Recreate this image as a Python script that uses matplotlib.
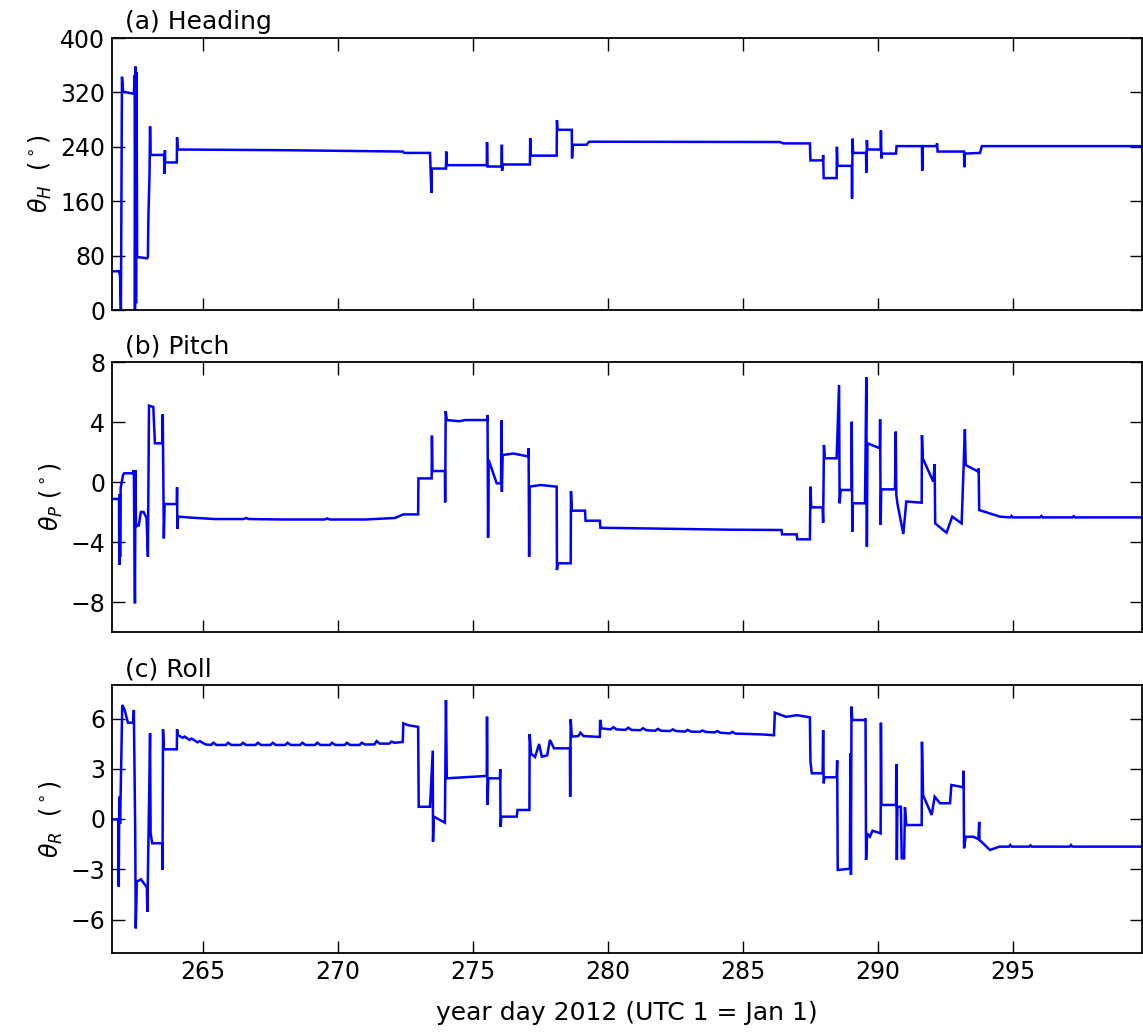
import matplotlib
matplotlib.use("Agg")
import matplotlib.pyplot as plt

# Ship attitude time series: (year day, degrees) breakpoints
heading_pts = [
    (261.63, 57), (261.89, 57), (261.93, 50), (261.96, 0), (262.00, 343), (262.04, 321),
    (262.44, 318), (262.47, 345), (262.48, 0), (262.50, 358), (262.52, 10), (262.54, 350),
    (262.56, 78), (262.93, 76), (262.96, 78), (262.98, 140), (263.02, 200), (263.04, 270),
    (263.06, 228), (263.56, 228), (263.57, 200), (263.59, 235), (263.60, 217), (264.03, 217),
    (264.04, 254), (264.06, 236), (268.0, 235), (272.41, 233), (272.45, 231), (273.41, 231),
    (273.43, 208), (273.46, 172), (273.48, 208), (274.00, 208), (274.01, 233), (274.03, 213),
    (275.51, 213), (275.52, 247), (275.54, 211), (276.06, 211), (276.07, 243), (276.08, 205),
    (276.10, 214), (277.11, 214), (277.12, 253), (277.14, 227), (278.10, 227), (278.11, 279),
    (278.13, 265), (278.66, 265), (278.67, 223), (278.69, 243), (279.21, 243), (279.30, 247.5),
    (286.37, 247), (286.50, 245), (287.48, 245), (287.50, 220), (287.96, 220), (287.97, 228),
    (287.99, 194), (288.47, 194), (288.48, 240), (288.50, 212), (289.03, 212), (289.04, 164),
    (289.06, 252), (289.08, 231), (289.56, 231), (289.57, 202), (289.59, 250), (289.61, 236),
    (290.10, 236), (290.11, 264), (290.13, 223), (290.15, 230), (290.67, 230), (290.69, 241),
    (291.63, 241), (291.64, 205), (291.66, 241), (292.17, 241), (292.19, 245), (292.21, 233),
    (293.19, 233), (293.20, 210), (293.22, 230), (293.78, 231), (293.85, 241), (299.78, 241),
]

pitch_pts = [
    (261.63, -1.13), (261.89, -1.13), (261.90, -5.53), (261.92, -0.8), (261.93, -5.0),
    (261.95, -0.42), (262.04, 0.47), (262.08, 0.58), (262.42, 0.58), (262.44, 0.8),
    (262.48, -8.09), (262.50, 0.8), (262.52, -3.0), (262.55, -2.9), (262.62, -2.9),
    (262.70, -2.0), (262.80, -2.0), (262.91, -2.4), (262.96, -4.98), (263.00, 5.09),
    (263.16, 5.0), (263.22, 2.58), (263.49, 2.58), (263.51, 4.51), (263.55, -3.76),
    (263.58, -1.47), (264.03, -1.47), (264.04, -0.35), (264.05, -3.13), (264.08, -2.31),
    (264.6, -2.38), (265.44, -2.47), (266.5, -2.47), (266.6, -2.40), (266.7, -2.47),
    (268.0, -2.5), (269.5, -2.5), (269.6, -2.43), (269.7, -2.5), (271.0, -2.5),
    (272.11, -2.4), (272.42, -2.16), (272.97, -2.16), (272.98, 0.24), (273.47, 0.24),
    (273.48, 3.09), (273.50, 0.73), (273.96, 0.73), (273.97, -1.36), (273.99, 4.73),
    (274.03, 4.13), (274.5, 4.05), (274.7, 4.13), (275.53, 4.13), (275.54, 4.47),
    (275.56, -3.71), (275.58, 1.47), (275.88, -0.09), (276.04, -0.09), (276.05, 4.13),
    (276.07, -0.64), (276.10, 1.8), (276.5, 1.9), (277.05, 1.7), (277.06, 2.24),
    (277.08, -4.98), (277.10, -0.31), (277.5, -0.2), (278.10, -0.31), (278.11, -5.87),
    (278.14, -5.42), (278.62, -5.42), (278.63, -0.6), (278.66, -1.91), (279.15, -1.91),
    (279.17, -2.58), (279.70, -2.58), (279.72, -3.05), (284.52, -3.18), (286.43, -3.2),
    (286.45, -3.49), (286.99, -3.49), (287.01, -3.82), (287.48, -3.82), (287.50, -0.31),
    (287.53, -1.69), (287.95, -1.69), (287.97, -2.71), (288.00, 2.47), (288.03, 1.58),
    (288.47, 1.58), (288.56, 6.47), (288.58, -1.42), (288.62, -0.53), (289.02, -0.53),
    (289.03, 4.02), (289.05, -3.31), (289.07, -1.42), (289.52, -1.42), (289.57, 6.98),
    (289.59, -4.31), (289.61, 2.58), (290.07, 2.25), (290.08, 4.18), (290.10, -2.87),
    (290.12, -0.49), (290.63, -0.49), (290.66, 3.36), (290.68, -0.87), (290.72, -1.42),
    (290.94, -3.47), (291.05, -1.3), (291.62, -1.38), (291.63, 3.13), (291.66, 1.58),
    (292.05, 0.02), (292.10, 1.2), (292.12, -2.76), (292.54, -3.38), (292.75, -2.31),
    (293.10, -2.76), (293.22, 3.51), (293.25, 1.13), (293.72, 0.69), (293.73, 0.9),
    (293.75, -1.87), (294.52, -2.31), (294.9, -2.36), (294.95, -2.26), (295.0, -2.36),
    (296.0, -2.36), (296.05, -2.27), (296.1, -2.36), (297.2, -2.36), (297.25, -2.28),
    (297.3, -2.36), (299.78, -2.36),
]

roll_pts = [
    (261.63, -0.02), (261.86, -0.02), (261.88, -4.04), (261.90, 1.33), (261.93, -0.3),
    (262.01, 6.81), (262.10, 6.51), (262.22, 5.75), (262.42, 5.75), (262.44, 6.51),
    (262.47, 1.93), (262.49, -0.84), (262.51, -6.53), (262.55, -3.74), (262.70, -3.6),
    (262.92, -4.08), (262.94, -5.54), (263.04, 5.11), (263.06, -0.86), (263.12, -1.45),
    (263.49, -1.45), (263.50, -3.04), (263.52, 5.35), (263.55, 4.16), (264.03, 4.16),
    (264.04, 5.35), (264.07, 5.01), (264.25, 4.85), (264.32, 4.92), (264.50, 4.72),
    (264.58, 4.80), (264.80, 4.58), (264.88, 4.65), (265.10, 4.45), (265.30, 4.42),
    (265.38, 4.55), (265.50, 4.42), (265.85, 4.42), (265.93, 4.55), (266.05, 4.42),
    (266.40, 4.42), (266.48, 4.55), (266.60, 4.42), (266.95, 4.42), (267.03, 4.55),
    (267.15, 4.42), (267.50, 4.42), (267.58, 4.55), (267.70, 4.42), (268.05, 4.42),
    (268.13, 4.55), (268.25, 4.42), (268.60, 4.42), (268.68, 4.55), (268.80, 4.42),
    (269.15, 4.42), (269.23, 4.55), (269.35, 4.42), (269.70, 4.42), (269.78, 4.55),
    (269.90, 4.42), (270.25, 4.42), (270.33, 4.55), (270.45, 4.42), (270.80, 4.42),
    (270.88, 4.55), (271.00, 4.45), (271.35, 4.45), (271.43, 4.65), (271.55, 4.5),
    (271.90, 4.5), (271.98, 4.62), (272.10, 4.55), (272.40, 4.6), (272.42, 5.71),
    (272.60, 5.6), (272.97, 5.5), (272.99, 0.73), (273.41, 0.73), (273.51, 4.08),
    (273.52, -1.35), (273.55, 0.14), (273.96, -0.22), (274.00, 7.1), (274.03, 2.43),
    (275.51, 2.57), (275.52, 6.11), (275.54, 0.84), (275.57, 2.43), (276.00, 2.43),
    (276.01, 2.97), (276.02, -0.46), (276.05, 0.14), (276.62, 0.14), (276.65, 0.54),
    (277.09, 0.54), (277.10, 5.07), (277.15, 3.9), (277.30, 3.7), (277.45, 4.48),
    (277.55, 3.72), (277.75, 3.8), (277.85, 4.72), (278.00, 4.22), (278.59, 4.22),
    (278.60, 1.33), (278.62, 5.95), (278.66, 4.92), (278.90, 4.95), (278.98, 5.15),
    (279.10, 4.95), (279.70, 4.9), (279.71, 5.92), (279.76, 5.41), (280.10, 5.35),
    (280.20, 5.48), (280.32, 5.35), (280.65, 5.32), (280.75, 5.45), (280.87, 5.32),
    (281.20, 5.3), (281.30, 5.42), (281.42, 5.3), (281.75, 5.27), (281.85, 5.38),
    (281.97, 5.27), (282.30, 5.25), (282.40, 5.35), (282.52, 5.25), (282.85, 5.22),
    (282.95, 5.32), (283.07, 5.22), (283.40, 5.2), (283.50, 5.28), (283.62, 5.2),
    (283.95, 5.17), (284.05, 5.25), (284.17, 5.15), (284.52, 5.11), (284.60, 5.2),
    (284.72, 5.1), (285.70, 5.05), (286.15, 5.0), (286.18, 6.35), (286.60, 6.1),
    (287.00, 6.2), (287.48, 6.07), (287.50, 3.42), (287.55, 2.73), (287.95, 2.73),
    (287.97, 5.31), (287.99, 2.13), (288.02, 2.49), (288.47, 2.49), (288.49, 3.5),
    (288.51, -3.04), (288.96, -2.97), (288.98, 3.92), (289.00, -3.34), (289.02, 6.71),
    (289.05, 5.91), (289.52, 5.91), (289.54, 6.0), (289.56, -2.45), (289.60, -0.86),
    (289.70, -1.06), (289.80, -0.7), (290.10, -0.86), (290.11, 5.75), (290.13, 0.84),
    (290.67, 0.84), (290.68, 3.28), (290.70, -2.45), (290.72, 0.73), (290.85, 0.73),
    (290.88, -2.35), (290.97, -2.35), (291.00, 0.7), (291.05, -0.36), (291.62, -0.36),
    (291.63, 4.61), (291.67, 1.43), (291.99, 0.24), (292.10, 1.33), (292.30, 0.94),
    (292.67, 0.94), (292.72, 2.03), (293.16, 1.9), (293.17, 2.88), (293.19, -1.75),
    (293.25, -1.06), (293.53, -1.06), (293.72, -1.2), (293.75, -0.17), (293.76, -1.25),
    (294.15, -1.85), (294.50, -1.65), (294.85, -1.65), (294.9, -1.55), (294.95, -1.65),
    (295.6, -1.65), (295.65, -1.57), (295.7, -1.65), (297.1, -1.65), (297.15, -1.55),
    (297.2, -1.65), (299.78, -1.65),
]

panel_titles = ["(a) Heading", "(b) Pitch", "(c) Roll"]
panel_ylabels = [r"$\theta_H$  ($^\circ$)", r"$\theta_P$ ($^\circ$)", r"$\theta_R$  ($^\circ$)"]
panel_yticks = [[0, 80, 160, 240, 320, 400], [-8, -4, 0, 4, 8], [-6, -3, 0, 3, 6]]
panel_ylims = [(0, 400), (-10, 8), (-8, 8)]
day_ticks = [265, 270, 275, 280, 285, 290, 295]
day_range = (261.63, 299.78)
xlabel_text = "year day 2012 (UTC 1 = Jan 1)"

W, H = 1143, 1036
fig = plt.figure(figsize=(W / 100, H / 100), dpi=100)

# panel boxes in pixels: (top, bottom)
boxes = [(38, 310), (362, 632), (685, 953)]
left_px, right_px = 112, 1142

series = [heading_pts, pitch_pts, roll_pts]
for i, (pts, (top, bot)) in enumerate(zip(series, boxes)):
    ax = fig.add_axes([left_px / W, 1 - bot / H, (right_px - left_px) / W, (bot - top) / H])
    x = [p[0] for p in pts]
    y = [p[1] for p in pts]
    ax.plot(x, y, color="#0000ff", lw=1.8, solid_joinstyle="miter")
    ax.set_xlim(*day_range)
    ax.set_ylim(*panel_ylims[i])
    ax.set_yticks(panel_yticks[i])
    ax.set_xticks(day_ticks)
    ax.tick_params(direction="in", top=True, right=True, length=9, width=1,
                   labelsize=17, pad=5)
    for s in ax.spines.values():
        s.set_linewidth(1.3)
    if i < 2:
        ax.tick_params(labelbottom=False)
    else:
        ax.set_xlabel(xlabel_text, fontsize=18, labelpad=12)
    ax.set_ylabel(panel_ylabels[i], fontsize=17, labelpad=4)
    ax.text(0.013, 1.0 + 9 / (bot - top), panel_titles[i], transform=ax.transAxes,
            fontsize=18, ha="left", va="baseline")

fig.savefig("out.png", dpi=100)
